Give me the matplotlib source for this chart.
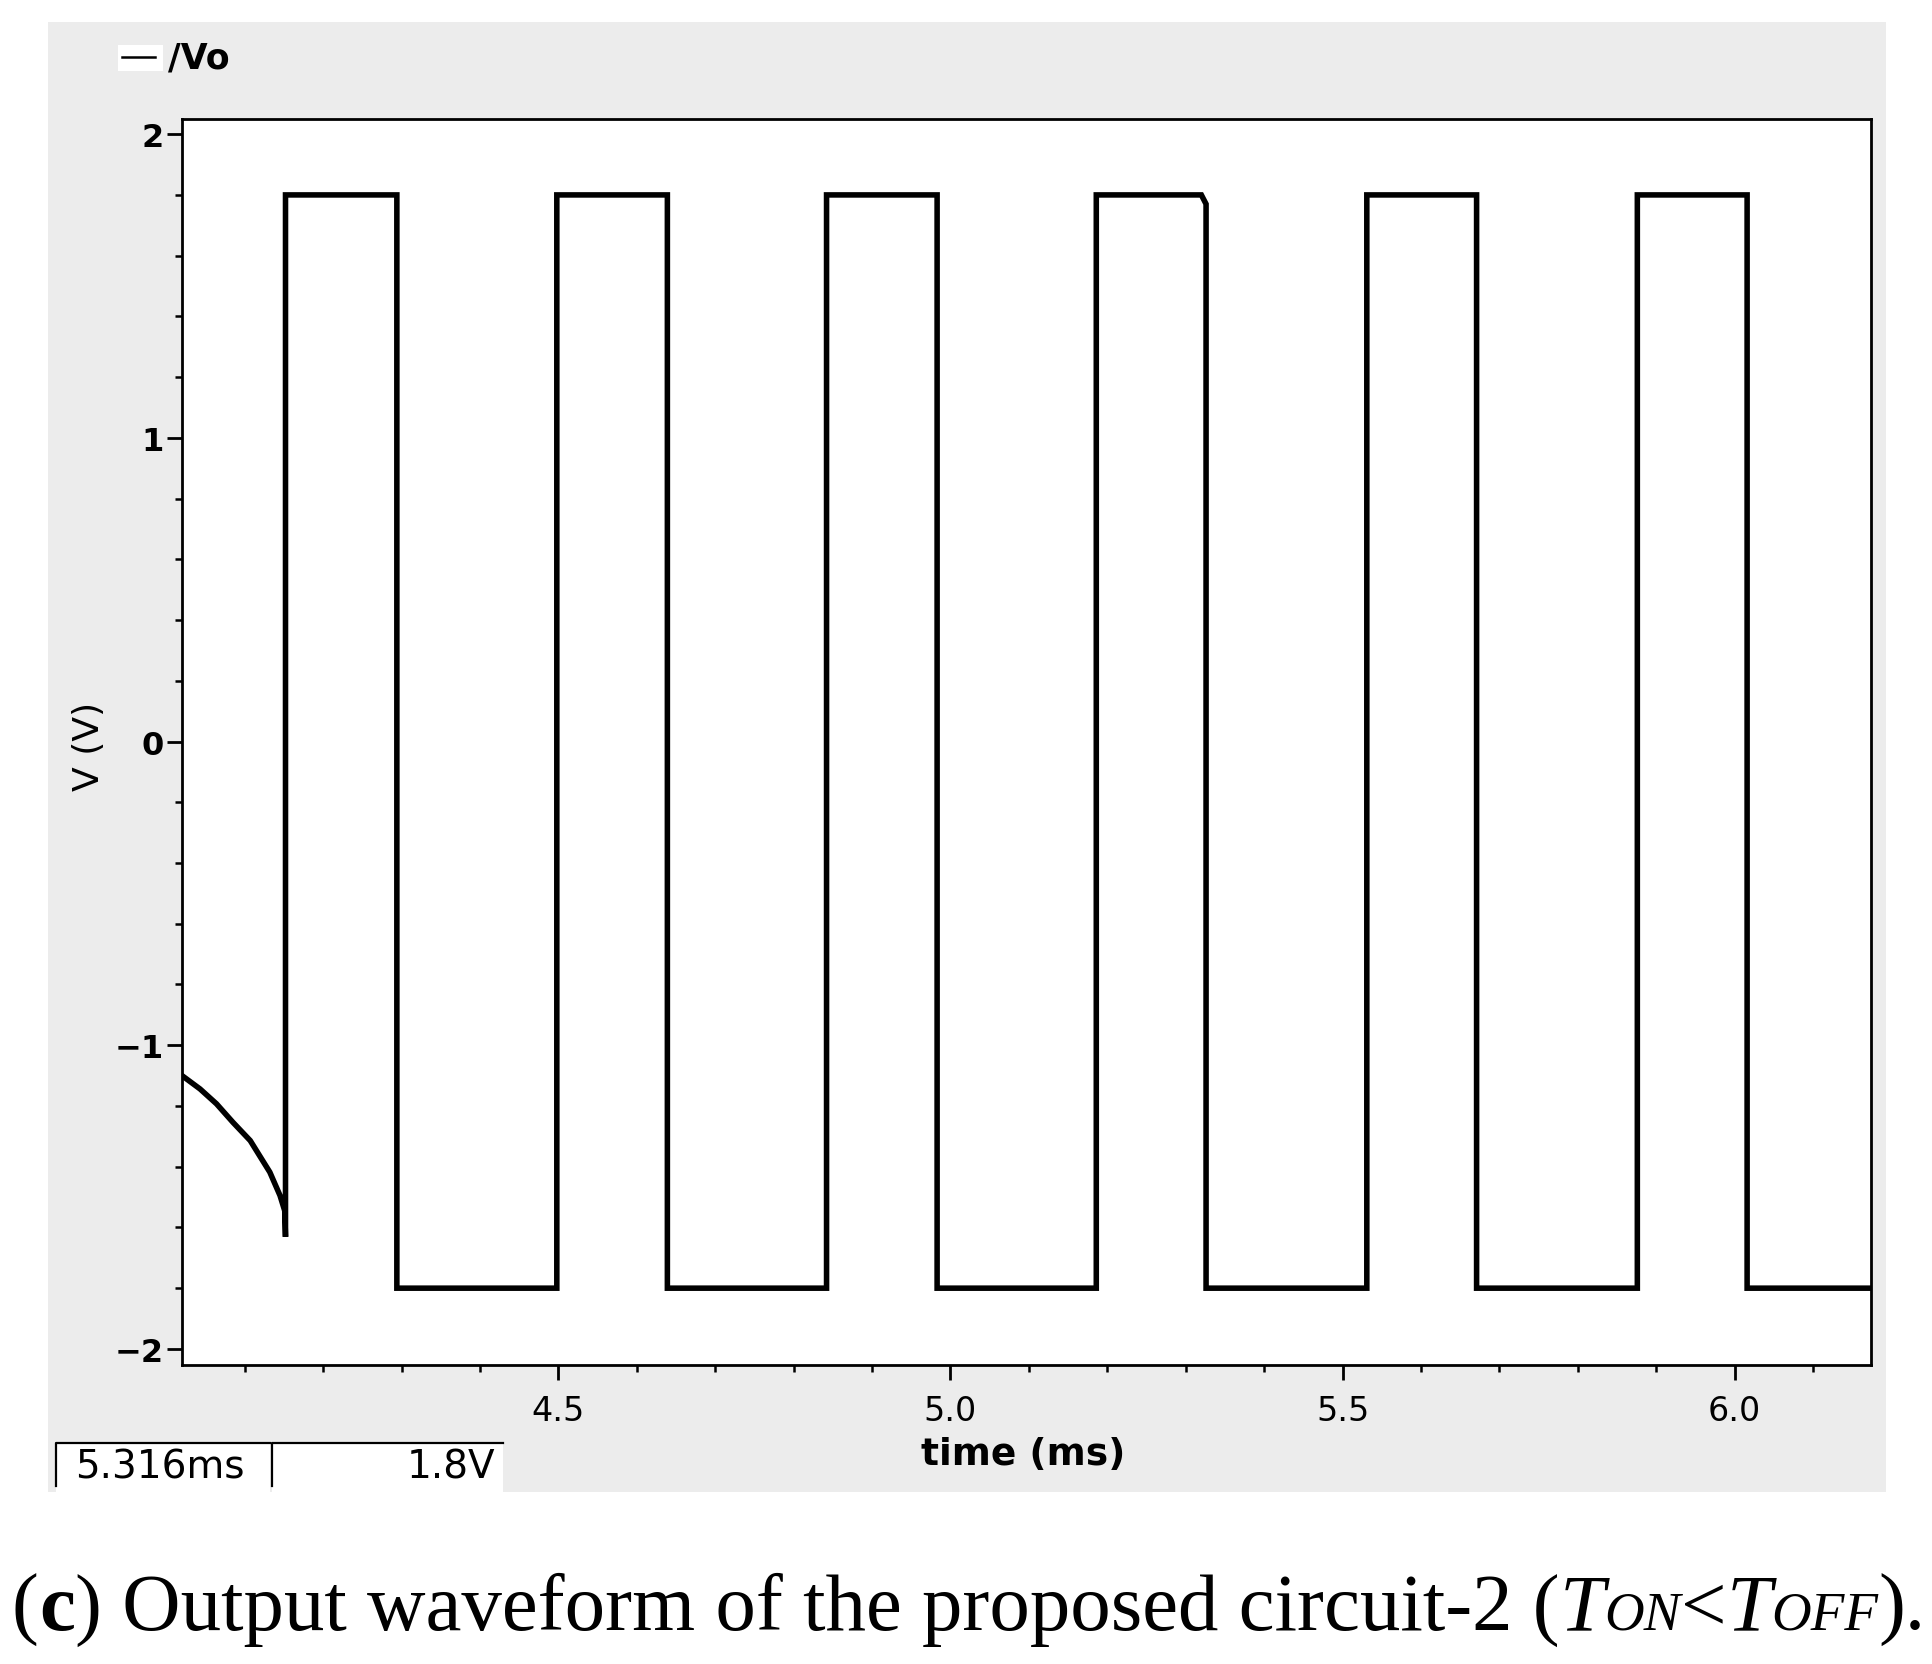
import matplotlib
matplotlib.use('Agg')
import matplotlib.pyplot as plt
from matplotlib.patches import Rectangle
from matplotlib.lines import Line2D
from matplotlib.ticker import MultipleLocator, FixedLocator

W, H = 1933, 1665

# start-up transient before the first rising edge (ms, V)
start_t = [4.020, 4.043, 4.064, 4.085, 4.107, 4.119, 4.132, 4.145, 4.151, 4.152]
start_v = [-1.100, -1.144, -1.193, -1.254, -1.314, -1.364, -1.418, -1.495, -1.545, -1.631]
# edges of the square wave (ms)
rise_t = [4.152, 4.498, 4.842, 5.186, 5.531, 5.876]
fall_t = [4.294, 4.639, 4.983, 5.326, 5.671, 6.016]
v_high = 1.8
v_low = -1.8
t_end = 6.18

x_ticks = [4.5, 5.0, 5.5, 6.0]
x_labels = ["4.5", "5.0", "5.5", "6.0"]
y_ticks = [-2, -1, 0, 1, 2]
y_labels = ["\u22122", "\u22121", "0", "1", "2"]

cursor_x = "5.316ms"
cursor_y = "1.8V"


def fx(x):
    return x / W


def fy(y):
    return 1 - y / H


# build the waveform polyline
t = list(start_t)
v = list(start_v)
for i, (r, f) in enumerate(zip(rise_t, fall_t)):
    if i > 0:
        t.append(r); v.append(v_low)
    t.append(r); v.append(v_high)
    if f == 5.326:  # small rounded corner on this edge
        t.append(f - 0.006); v.append(v_high)
        t.append(f); v.append(v_high - 0.03)
    else:
        t.append(f); v.append(v_high)
    t.append(f); v.append(v_low)
t.append(t_end); v.append(v_low)

fig = plt.figure(figsize=(W / 100, H / 100), dpi=100)
fig.patch.set_facecolor('white')

# grey panel behind the plot
fig.add_artist(Rectangle((fx(48), fy(1493)), (1886 - 48) / W, (1493 - 23) / H,
                         transform=fig.transFigure, facecolor='#ececec',
                         edgecolor='none', zorder=-5))

ax = fig.add_axes([fx(182), fy(1366), (1871 - 182) / W, (1366 - 120) / H])
ax.set_facecolor('white')
ax.plot(t, v, color='black', lw=4.0, solid_joinstyle='miter')
ax.set_xlim(4.02, 6.174)
ax.set_ylim(-2.053, 2.05)

ax.xaxis.set_major_locator(FixedLocator(x_ticks))
ax.set_xticklabels(x_labels)
ax.xaxis.set_minor_locator(MultipleLocator(0.1))
ax.yaxis.set_major_locator(FixedLocator(y_ticks))
ax.set_yticklabels(y_labels)
ax.yaxis.set_minor_locator(MultipleLocator(0.2))

for s in ax.spines.values():
    s.set_linewidth(2.0)
ax.tick_params(axis='x', which='major', direction='out', length=11, width=2.0, pad=10, labelsize=24)
ax.tick_params(axis='x', which='minor', direction='out', length=5, width=1.8)
ax.tick_params(axis='y', which='major', direction='out', length=11, width=2.0, pad=2, labelsize=23)
ax.tick_params(axis='y', which='minor', direction='out', length=5, width=1.8)
for lab in ax.get_yticklabels():
    lab.set_fontweight('bold')

# legend entry
fig.add_artist(Rectangle((fx(118), fy(72)), 45 / W, 26 / H, transform=fig.transFigure,
                         facecolor='white', edgecolor='none', zorder=1))
fig.add_artist(Line2D([fx(122), fx(155)], [fy(58), fy(58)], transform=fig.transFigure,
                      color='black', lw=1.8, zorder=2))
fig.text(fx(168), fy(59), "/Vo", ha='left', va='center', fontsize=25, fontweight='bold')

# axis labels
fig.text(fx(89), fy(746), "V (V)", rotation=90, ha='center', va='center', fontsize=26)
fig.text(fx(1023), fy(1455), "time (ms)", ha='center', va='center', fontsize=27, fontweight='bold')

# cursor readout boxes
for x0, x1 in [(56, 270), (272, 503)]:
    fig.add_artist(Rectangle((fx(x0), fy(1493)), (x1 - x0) / W, (1493 - 1444) / H,
                             transform=fig.transFigure, facecolor='white',
                             edgecolor='none', zorder=1))
    fig.add_artist(Line2D([fx(x0), fx(x0), fx(x1)], [fy(1487), fy(1444), fy(1444)],
                          transform=fig.transFigure, color='black', lw=1.6, zorder=2))
fig.text(fx(75), fy(1468), cursor_x, ha='left', va='center', fontsize=28)
fig.text(fx(495), fy(1468), cursor_y, ha='right', va='center', fontsize=28)

# caption, assembled from pieces and fitted to the width
fam = 'Liberation Serif'
pieces = [("(", {}, 1.0), ("c", {'fontweight': 'bold'}, 1.0),
          (") Output waveform of the proposed circuit-2 (", {}, 1.0),
          ("T", {'fontstyle': 'italic'}, 1.0), ("ON", {'fontstyle': 'italic'}, 0.68),
          ("<", {}, 1.0),
          ("T", {'fontstyle': 'italic'}, 1.0), ("OFF", {'fontstyle': 'italic'}, 0.68),
          (").", {}, 1.0)]
base = 56
renderer = fig.canvas.get_renderer()
texts = []
for s, kw, k in pieces:
    texts.append(fig.text(0, fy(1630), s, family=fam, fontsize=base * k, va='baseline', **kw))
widths = [tx.get_window_extent(renderer).width for tx in texts]
scale = (1926 - 12) / sum(widths)
x = 12
for tx, (s, kw, k) in zip(texts, pieces):
    tx.set_fontsize(base * k * scale)
    tx.set_x(fx(x))
    x += tx.get_window_extent(renderer).width

fig.savefig('out.png', dpi=100, facecolor='white')
